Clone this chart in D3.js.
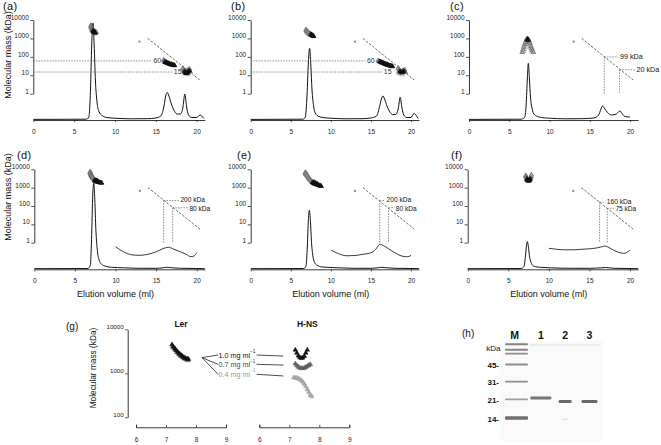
<!DOCTYPE html>
<html><head><meta charset="utf-8">
<script src="https://cdn.jsdelivr.net/npm/d3@7"></script>
<style>body{margin:0;background:#fff} svg{display:block}</style>
</head><body>
<svg id="c" width="661" height="445"></svg>
<script>
// ---------------- DATA ----------------
const elutionTicks = [0, 5, 10, 15, 20];
const massTicks = [1, 10, 100, 1000, 10000];
const gTicksX = [6, 7, 8, 9];
const gTicksY = [100, 1000, 10000];
const calibLine = [[14, 1000], [20.4, 5.5]];
const calibStd = [[13, 670]];

// chromatograms: [elution ml, relative absorbance]
const traceA = [[0,0.6],[6.5,0.8],[6.8,3],[7.0,30],[7.15,75],[7.3,97],[7.45,75],[7.6,40],[7.8,18],[8.0,9],[8.5,4],[9,2.5],[10,1.8],[12,1.2],[14,1.3],[15,2],[15.6,4],[16.0,14],[16.2,24],[16.4,27.5],[16.6,24],[16.9,16],[17.2,10],[17.6,6],[18.0,6],[18.3,12],[18.55,26],[18.75,14],[19.0,5],[19.4,2.5],[20.0,2.5],[20.4,5],[20.6,4],[20.9,1.5]];
const traceB = [[0,0.6],[6.5,0.8],[6.8,2.5],[7.0,20],[7.2,58],[7.35,71.7],[7.5,55],[7.65,30],[7.85,14],[8.05,7],[8.5,3.5],[9,2.5],[10,1.8],[12,1.2],[14,1.3],[15,2],[15.7,4],[16.1,14],[16.3,21],[16.5,24],[16.7,21],[17.0,14],[17.3,9],[17.7,5.5],[18.1,5.5],[18.4,11],[18.65,22.7],[18.85,13],[19.1,5],[19.5,2.5],[20.0,2.5],[20.4,6.7],[20.6,5],[20.9,1.5]];
const traceC = [[0,0.6],[6.5,0.8],[6.9,2.5],[7.1,15],[7.25,42],[7.37,56.7],[7.5,42],[7.65,22],[7.85,11],[8.05,6],[8.5,3.5],[9,2.5],[10,1.8],[12,1.2],[14,1.3],[15.5,2],[16.1,5],[16.4,11],[16.6,14],[16.8,12],[17.2,7.5],[17.7,5],[18.3,6],[18.75,9],[19.05,6],[19.4,3.5],[20,3]];
const traceD = [[0,0.6],[6.6,0.8],[6.9,4],[7.05,30],[7.2,75],[7.32,86],[7.45,70],[7.58,40],[7.75,20],[7.95,10],[8.3,5],[8.8,3],[9.5,2],[11,1.5],[13,1],[15,1],[15.8,1.5],[16.3,2],[17,1.5],[18,1],[20,0.8],[21,0.6]];
const traceE = [[0,0.6],[6.6,0.8],[6.9,3],[7.05,20],[7.2,50],[7.32,59],[7.45,48],[7.58,28],[7.75,14],[7.95,7],[8.3,4],[8.8,2.5],[9.5,2],[11,1.5],[13,1],[15,1],[15.8,1.5],[16.3,2],[17,1.5],[18,1],[20,0.8],[21,0.6]];
const traceF = [[0,0.6],[6.6,0.8],[6.95,3],[7.1,12],[7.25,24],[7.35,27.6],[7.47,23],[7.6,14],[7.8,7],[8.0,4],[8.4,2.5],[9,2],[10,1.5],[13,1],[15,1],[16.5,1.5],[17,1.8],[18,1],[20,0.8],[21,0.6]];
// magnified traces (10-20 ml) in d, e, f
const insetD = [[10,22.6],[11,17.5],[12,14.5],[13,14],[14,15],[15,17.5],[15.8,20.5],[16.5,22],[17.2,20],[18,17.5],[18.7,15],[19.3,12.6],[19.7,13.5],[20,16.6]];
const insetE = [[10,19.3],[11,15.5],[12,13.5],[13,13.8],[14,15],[15,16.5],[15.6,20],[16.1,25],[16.6,23.5],[17.2,20.5],[18,16.5],[19,13],[19.6,12.6],[20,14]];
const insetF = [[10,21],[11,20],[12,19.5],[13,19.5],[14,20],[15,20.5],[16,21.5],[16.5,22.5],[16.9,23.3],[17.4,21.8],[18,19],[18.6,17],[19.2,16],[19.6,16.8],[20,19.3]];

// light-scattering molecular mass: [ml, kDa, run]
const massA = [[7.3,2600,0],[7.35,2400,0],[7.4,2300,0],[7.45,2200,0],[7.5,2100,0],[7.55,2050,0],[7.6,2000,0],[16.1,52,0],[16.2,50,0],[16.3,48,0],[16.4,46,0],[16.5,44,0],[16.6,42,0],[16.7,40,0],[16.8,39,0],[16.9,38,0],[17.0,37,0],[17.1,36,0],[17.2,35,0],[17.3,34,0],[18.5,16,0],[18.6,14,0],[18.7,13,0],[18.8,13,0],[18.9,14,0],[19.0,16,0],[19.1,18,0],
 [7.05,5200,1],[7.1,4400,1],[7.15,3800,1],[7.2,3300,1],[7.25,2900,1],[7.3,3100,1],[7.4,2700,1],[7.5,2500,1],[7.6,2300,1],[7.7,2200,1],[15.95,68,1],[16.05,60,1],[16.15,56,1],[16.3,52,1],[16.5,47,1],[16.7,43,1],[16.9,40,1],[17.1,37,1],[18.3,24,1],[18.4,20,1],[18.5,18,1],[18.7,17,1],[18.9,19,1],[19.1,22,1],[19.2,16,1],
 [7.0,4000,2],[7.1,3000,2],[7.2,2600,2],[7.3,2200,2],[7.4,1900,2],[7.5,1800,2],[18.4,15,2],[18.6,12,2],[18.8,11,2],[19.0,12,2]];
const massB = [[7.5,1700,0],[7.55,1600,0],[7.6,1550,0],[7.65,1500,0],[7.7,1450,0],[7.75,1400,0],[7.8,1350,0],[7.85,1300,0],[16.1,55,0],[16.2,52,0],[16.3,50,0],[16.4,48,0],[16.5,46,0],[16.6,44,0],[16.7,42,0],[16.8,40,0],[16.9,39,0],[17.0,37,0],[17.1,36,0],[17.2,35,0],[17.3,34,0],[17.4,33,0],[17.5,32,0],[17.6,31,0],[17.7,30,0],[18.6,16,0],[18.7,15,0],[18.8,14,0],[18.9,14,0],[19.0,15,0],[19.1,17,0],
 [6.9,3000,1],[6.95,2700,1],[7.0,2500,1],[7.1,2300,1],[7.2,2100,1],[7.3,1900,1],[7.4,1800,1],[15.9,62,1],[16.0,58,1],[16.2,54,1],[16.4,50,1],[16.6,46,1],[16.8,43,1],[17.0,40,1],[18.4,25,1],[18.5,20,1],[18.6,18,1],[18.8,16,1],[19.0,18,1],[19.2,20,1],[19.3,15,1],
 [7.0,2000,2],[7.2,1700,2],[7.4,1500,2],[18.4,14,2],[18.6,12,2],[18.9,11,2]];
const massC = [[7.25,900,0],[7.3,850,0],[7.35,800,0],
 [6.6,180,1],[6.7,250,1],[6.8,350,1],[6.9,480,1],[7.0,620,1],[7.1,800,1],[7.2,950,1],[7.3,980,1],[7.4,850,1],[7.5,680,1],[7.6,520,1],[7.7,380,1],[7.8,280,1],[7.9,220,1],[8.0,180,1],
 [6.8,200,2],[6.9,260,2],[7.0,350,2],[7.1,480,2],[7.2,620,2],[7.3,700,2],[7.4,600,2],[7.5,450,2],[7.6,330,2],[7.7,250,2],[7.8,190,2]];
const massD = [[7.4,2500,0],[7.5,2300,0],[7.6,2200,0],[7.7,2100,0],[7.8,2050,0],[7.9,2000,0],[8.0,1950,0],[8.1,1900,0],[8.2,1850,0],[8.3,1800,0],[7.6,2500,0],[7.7,2400,0],[7.8,2300,0],
 [6.85,7000,1],[6.9,6000,1],[6.95,5300,1],[7.0,4800,1],[7.05,4300,1],[7.1,3900,1],[7.15,3600,1],[7.2,3300,1],[7.3,3000,1],[7.4,2700,1],[7.5,2500,1],
 [6.9,7500,2],[6.95,6500,2],[7.0,5600,2],[7.05,4900,2],[7.1,4400,2],[7.2,3800,2],[7.3,3300,2]];
const massE = [[7.7,1900,0],[7.8,1800,0],[7.9,1700,0],[8.0,1600,0],[8.1,1550,0],[8.2,1500,0],[8.3,1450,0],[8.4,1400,0],[8.5,1350,0],[8.6,1300,0],[8.7,1250,0],[8.8,1200,0],[7.9,2000,0],[8.1,1800,0],[8.3,1600,0],
 [6.8,6500,1],[6.85,5800,1],[6.9,5200,1],[7.0,4500,1],[7.1,3900,1],[7.2,3400,1],[7.3,3000,1],[7.4,2700,1],[7.5,2400,1],[7.6,2200,1],[7.7,2000,1],
 [6.85,7000,2],[6.95,6000,2],[7.05,5000,2],[7.15,4200,2],[7.25,3600,2],[7.35,3100,2]];
const massF = [[7.3,3000,0],[7.35,2700,0],[7.4,2500,0],[7.45,2400,0],[7.5,2350,0],[7.55,2400,0],[7.6,2500,0],[7.65,2700,0],[7.7,3000,0],
 [7.15,4500,1],[7.2,4000,1],[7.25,3500,1],[7.75,3500,1],[7.8,4200,1],[7.85,5000,1],
 [7.2,3000,2],[7.3,2600,2],[7.6,2800,2],[7.7,3400,2]];

// annotations
const annoA = [60, 15];
const annoB = [60, 15];
const annoC = [[16.8, 99], [18.7, 20]];
const annoD = [[15.93, 200], [17.04, 80]];
const annoE = [[16.1, 200], [17.2, 80]];
const annoF = [[16.25, 160], [17.2, 75]];

// panel (g)
const concLabels = ['1.0', '0.7', '0.4'];
const lerMass = [[7.2,4500,0],[7.25,4000,0],[7.3,3600,0],[7.35,3300,0],[7.4,3000,0],[7.45,2800,0],[7.5,2600,0],[7.55,2450,0],[7.6,2300,0],[7.65,2200,0],[7.7,2150,0],[7.75,2100,0],
 [7.22,4100,1],[7.28,3700,1],[7.33,3300,1],[7.38,3000,1],[7.43,2750,1],[7.48,2550,1],[7.53,2400,1],[7.58,2250,1],[7.63,2150,1],[7.68,2050,1],[7.73,2000,1],
 [7.24,3800,2],[7.3,3400,2],[7.36,3000,2],[7.42,2700,2],[7.48,2450,2],[7.54,2300,2],[7.6,2150,2],[7.66,2050,2],[7.72,1950,2]];
const hnsMass = [[7.2,3400,0],[7.25,2900,0],[7.3,2500,0],[7.35,2300,0],[7.4,2200,0],[7.45,2250,0],[7.5,2450,0],[7.55,2900,0],[7.6,3400,0],
 [7.2,1650,1],[7.25,1500,1],[7.3,1400,1],[7.35,1330,1],[7.4,1300,1],[7.45,1300,1],[7.5,1320,1],[7.55,1380,1],[7.6,1450,1],[7.65,1530,1],[7.7,1600,1],
 [7.15,800,2],[7.2,790,2],[7.25,780,2],[7.3,760,2],[7.35,730,2],[7.4,690,2],[7.45,640,2],[7.5,570,2],[7.55,500,2],[7.6,430,2],[7.65,370,2],[7.7,320,2],[7.75,300,2]];

// panel (h) gel
const gelLanes = ['M', '1', '2', '3'];
const ladderKDa = [70, 62, 57, 45, 31, 21, 14];
const ladderIntensity = [0.55, 0.55, 0.5, 0.5, 0.5, 0.42, 0.65];
const ladderLabels = [45, 31, 21, 14];
const sampleBands = [{lane:'1', kDa:21.7, intensity:0.62}, {lane:'2', kDa:20.1, intensity:0.68}, {lane:'3', kDa:20.1, intensity:0.68}, {lane:'2', kDa:13.6, intensity:0.12}];

// ---------------- DRAWING ----------------
const F = "'Liberation Sans', Arial, Helvetica, sans-serif";
const svg = d3.select('#c');
const defs = svg.append('defs');
defs.append('filter').attr('id','blur').attr('x','-20%').attr('y','-100%').attr('width','140%').attr('height','300%')
  .append('feGaussianBlur').attr('stdDeviation', 0.55);

const runStroke = ['#111', '#555', '#9a9a9a'];
const runFill = ['#111', '#aaa', 'none'];

function styleAxis(sel, fs) {
  sel.attr('font-family', F).attr('font-size', fs).attr('color', '#222');
  sel.select('.domain').attr('stroke-width', 0.9).attr('stroke', '#222');
  sel.selectAll('.tick line').attr('stroke-width', 0.8).attr('stroke', '#222');
  sel.selectAll('.tick text').attr('fill', '#222');
}

const rows = [
  {log: [93.7, 20], base: 120, tickY: 132, lab: 10},
  {log: [242.7, 169.3], base: 269.3, tickY: 281, lab: 159}
];

const panels = [
  {id:'(a)', row:0, xr:[33.3,196.7], lx:3, trace:traceA, mass:massA, hAnno:annoA, hLabelVol:[14.7,17.2]},
  {id:'(b)', row:0, xr:[250.7,411], lx:231, trace:traceB, mass:massB, hAnno:annoB, hLabelVol:[14.5,16.6]},
  {id:'(c)', row:0, xr:[469,630], lx:450, trace:traceC, mass:massC, vAnno:annoC, vLabelVol:[18.75,20.8]},
  {id:'(d)', row:1, xr:[34.3,196.7], lx:17, trace:traceD, inset:insetD, mass:massD, vAnno:annoD, vLabelVol:[18.0,19.1], xlab:true},
  {id:'(e)', row:1, xr:[250.7,411], lx:237, trace:traceE, inset:insetE, mass:massE, vAnno:annoE, vLabelVol:[16.95,18.1], xlab:true},
  {id:'(f)', row:1, xr:[467.7,630], lx:451, trace:traceF, inset:insetF, mass:massF, vAnno:annoF, vLabelVol:[17.15,18.2], xlab:true}
];

function drawPanel(p) {
  const r = rows[p.row];
  const x = d3.scaleLinear().domain([0, 20]).range(p.xr);
  const xAx = d3.scaleLinear().domain([0, 21]).range([x(0), x(21)]);
  const y = d3.scaleLog().domain([1, 10000]).range(r.log);
  const h = d3.scaleLinear().domain([0, 100]).range([r.base, r.base - 100]);
  const g = svg.append('g');

  const xa = g.append('g').attr('transform', `translate(0,${r.base})`)
    .call(d3.axisBottom(xAx).tickValues(elutionTicks).tickSize(2).tickSizeOuter(0));
  styleAxis(xa, 6.5);
  xa.selectAll('.tick text').attr('y', r.tickY - r.base).attr('dy', '0.35em');

  const ya = g.append('g').attr('transform', `translate(${x(0)},0)`)
    .call(d3.axisLeft(y).tickValues(massTicks).tickFormat(d3.format('d')).tickSize(3).tickPadding(1.5).tickSizeOuter(0));
  styleAxis(ya, 6.5);
  ya.selectAll('.tick text').attr('dy', '-0.08em');

  const line = d3.line().x(d => x(d[0])).y(d => h(d[1])).curve(d3.curveMonotoneX);
  g.append('path').datum(p.trace).attr('d', line).attr('fill', 'none').attr('stroke', '#111').attr('stroke-width', 1);
  if (p.inset) g.append('path').datum(p.inset).attr('d', line).attr('fill', 'none').attr('stroke', '#222').attr('stroke-width', 0.9);

  // calibration
  const cl = d3.line().x(d => x(d[0])).y(d => y(d[1]));
  g.append('path').datum(calibLine).attr('d', cl).attr('stroke', '#444').attr('stroke-width', 0.8)
    .attr('stroke-dasharray', '2.5,1.5').attr('fill', 'none');
  g.selectAll('.std').data(calibStd).join('rect').attr('x', d => x(d[0]) - 1).attr('y', d => y(d[1]) - 1)
    .attr('width', 2).attr('height', 2).attr('fill', '#888');

  const dash = {stroke: '#666', w: 0.7, da: '1.6,1.1'};
  if (p.hAnno) {
    p.hAnno.forEach((m, i) => {
      g.append('line').attr('x1', x(0)).attr('x2', x(p.hLabelVol[i]) - 1.5).attr('y1', y(m)).attr('y2', y(m))
        .attr('stroke', dash.stroke).attr('stroke-width', dash.w).attr('stroke-dasharray', dash.da);
      g.append('text').attr('x', x(p.hLabelVol[i])).attr('y', y(m)).attr('dy', '0.35em')
        .attr('font-family', F).attr('font-size', 7).attr('fill', '#333').text(m);
    });
  }
  if (p.vAnno) {
    p.vAnno.forEach((d, i) => {
      g.append('line').attr('x1', x(d[0])).attr('x2', x(d[0])).attr('y1', y(d[1])).attr('y2', y(1))
        .attr('stroke', dash.stroke).attr('stroke-width', dash.w).attr('stroke-dasharray', dash.da);
      g.append('line').attr('x1', x(d[0])).attr('x2', x(p.vLabelVol[i]) - 1.5).attr('y1', y(d[1])).attr('y2', y(d[1]))
        .attr('stroke', dash.stroke).attr('stroke-width', dash.w).attr('stroke-dasharray', dash.da);
      const nudge = p.row === 1 ? (i === 0 ? -0.8 : 1.0) : 0;
      g.append('text').attr('x', x(p.vLabelVol[i])).attr('y', y(d[1]) + nudge).attr('dy', '0.33em')
        .attr('font-family', F).attr('font-size', p.row === 1 ? 6.6 : 7.2).attr('fill', '#111').text(d[1] + ' kDa');
    });
  }

  const sym = d3.symbol().type(d3.symbolTriangle).size(9);
  const pts = p.mass.slice().sort((a, b) => b[2] - a[2]);
  g.selectAll('.pt').data(pts).join('path')
    .attr('d', sym).attr('transform', d => `translate(${x(d[0])},${y(d[1])})`)
    .attr('fill', d => runFill[d[2]]).attr('stroke', d => runStroke[d[2]]).attr('stroke-width', 0.6);

  g.append('text').attr('x', p.lx).attr('y', r.lab).attr('font-family', F).attr('font-size', 11)
    .attr('letter-spacing', 0.4).attr('fill', '#111').text(p.id);

  if (p.xlab) {
    g.append('text').attr('x', x(10)).attr('y', 294).attr('dy', '0.35em').attr('text-anchor', 'middle')
      .attr('font-family', F).attr('font-size', 9).attr('fill', '#111').text('Elution volume (ml)');
  }
}
panels.forEach(drawPanel);

// row y-labels
[[7.5, 55], [7.5, 197]].forEach(([lx, ly]) => {
  svg.append('text').attr('transform', `translate(${lx},${ly}) rotate(-90)`).attr('dy', '0.35em')
    .attr('text-anchor', 'middle').attr('font-family', F).attr('font-size', 9).attr('fill', '#111')
    .text('Molecular mass (kDa)');
});

// ---------- panel (g) ----------
(function () {
  const yG = d3.scaleLog().domain([100, 10000]).range([417.3, 329.3]);
  const xL = d3.scaleLinear().domain([6, 9]).range([136, 226]);
  const xH = d3.scaleLinear().domain([6, 9]).range([259.3, 349.3]);
  const g = svg.append('g');
  const ya = g.append('g').attr('transform', 'translate(127.7,0)')
    .call(d3.axisLeft(yG).tickValues(gTicksY).tickFormat(d3.format('d')).tickSize(2.5).tickPadding(1.5).tickSizeOuter(0));
  styleAxis(ya, 6.2);
  ya.selectAll('.tick text').attr('dy', '-0.1em');
  [xL, xH].forEach(xs => {
    const xa = g.append('g').attr('transform', 'translate(0,427.3)')
      .call(d3.axisBottom(xs).tickValues(gTicksX).tickFormat(d3.format('d')).tickSize(-2.5).tickSizeOuter(-2.5));
    styleAxis(xa, 6.5);
    xa.selectAll('.tick text').attr('y', 12.7).attr('dy', '0.35em');
  });
  g.append('text').attr('transform', 'translate(93,368) rotate(-90)').attr('dy', '0.35em').attr('text-anchor', 'middle')
    .attr('font-family', F).attr('font-size', 8.3).attr('fill', '#111').text('Molecular mass (kDa)');
  g.append('text').attr('x', 66).attr('y', 330).attr('font-family', F).attr('font-size', 10).attr('fill', '#111').text('(g)');
  g.append('text').attr('x', xL(7.5)).attr('y', 327).attr('text-anchor', 'middle').attr('font-family', F)
    .attr('font-size', 8.5).attr('font-weight', 'bold').attr('fill', '#111').text('Ler');
  g.append('text').attr('x', xH(7.6)).attr('y', 327).attr('text-anchor', 'middle').attr('font-family', F)
    .attr('font-size', 8.5).attr('font-weight', 'bold').attr('fill', '#111').text('H-NS');

  const sym = d3.symbol().type(d3.symbolTriangle).size(9);
  const gStroke = ['#111', '#555', '#999'];
  const gFill = ['#111', '#666', '#aaa'];
  [[lerMass, xL], [hnsMass, xH]].forEach(([data, xs]) => {
    g.append('g').selectAll('path').data(data.slice().sort((a, b) => b[2] - a[2])).join('path')
      .attr('d', sym).attr('transform', d => `translate(${xs(d[0])},${yG(d[1])})`)
      .attr('fill', d => gFill[d[2]]).attr('stroke', d => gStroke[d[2]]).attr('stroke-width', 0.5);
  });

  // legend with connector lines
  const origin = [xL(8.2), yG(2270)];
  const labY = [2600, 1600, 950].map(v => yG(v));
  const endY = [2470, 1540, 870].map(v => yG(v));
  const labX = xL(8.75);
  const textCol = ['#111', '#444', '#999'];
  concLabels.forEach((c, i) => {
    g.append('line').attr('x1', origin[0]).attr('y1', origin[1]).attr('x2', labX - 0.5).attr('y2', labY[i])
      .attr('stroke', '#222').attr('stroke-width', 0.8);
    const t = g.append('text').attr('x', labX).attr('y', labY[i]).attr('dy', '0.35em')
      .attr('font-family', F).attr('font-size', 7.2).attr('fill', textCol[i]);
    t.append('tspan').text(c + ' mg ml');
    t.append('tspan').attr('font-size', 4.8).attr('dy', '-0.9em').text('\u22121');
    const tw = t.node().getComputedTextLength();
    g.append('line').attr('x1', labX + tw + 1).attr('y1', labY[i]).attr('x2', xH(6.8)).attr('y2', endY[i])
      .attr('stroke', '#222').attr('stroke-width', 0.8);
  });
})();

// ---------- panel (h) gel ----------
(function () {
  const g = svg.append('g');
  const lx = d3.scalePoint().domain(gelLanes).range([516.5, 589.5]);
  const gy = d3.scaleLog().domain([45, 14]).range([364.5, 418]);
  const laneW = {M: 23, '1': 21, '2': 13, '3': 16};
  const shade = d3.scaleLinear().domain([0, 1]).range(['#f2f2f2', '#2a2a2a']);
  g.append('rect').attr('x', 500).attr('y', 341).attr('width', 103).attr('height', 100).attr('fill', '#fafafa');
  g.append('line').attr('x1', 530).attr('x2', 600).attr('y1', 345).attr('y2', 345).attr('stroke', '#d6d6d6').attr('stroke-width', 0.8);
  const bands = g.append('g').attr('filter', 'url(#blur)');
  ladderKDa.forEach((k, i) => {
    const th = k === 14 ? 3.4 : 1.9;
    bands.append('rect').attr('x', lx('M') - laneW.M / 2).attr('y', gy(k) - th / 2).attr('width', laneW.M).attr('height', th)
      .attr('rx', 1).attr('fill', shade(ladderIntensity[i]));
  });
  sampleBands.forEach(b => {
    const th = b.intensity > 0.3 ? 3 : 1;
    const w = b.intensity > 0.3 ? laneW[b.lane] : 7;
    bands.append('rect').attr('x', lx(b.lane) - w / 2).attr('y', gy(b.kDa) - th / 2).attr('width', w).attr('height', th)
      .attr('rx', 1.2).attr('fill', shade(b.intensity));
  });
  gelLanes.forEach(l => {
    g.append('text').attr('x', lx(l) - (l === 'M' ? 2 : 0)).attr('y', 338.5).attr('text-anchor', 'middle')
      .attr('font-family', F).attr('font-size', 10.5).attr('font-weight', 'bold').attr('fill', '#111').text(l);
  });
  g.append('text').attr('x', 500.5).attr('y', 348).attr('dy', '0.35em').attr('text-anchor', 'end')
    .attr('font-family', F).attr('font-size', 8).attr('fill', '#111').text('kDa');
  ladderLabels.forEach(k => {
    g.append('text').attr('x', 499).attr('y', gy(k) + 0.8).attr('dy', '0.35em').attr('text-anchor', 'end')
      .attr('font-family', F).attr('font-size', 8).attr('font-weight', 'bold').attr('fill', '#111').text(k + '-');
  });
  g.append('text').attr('x', 462).attr('y', 337).attr('font-family', F).attr('font-size', 10).attr('fill', '#111').text('(h)');
})();
</script>
</body></html>
